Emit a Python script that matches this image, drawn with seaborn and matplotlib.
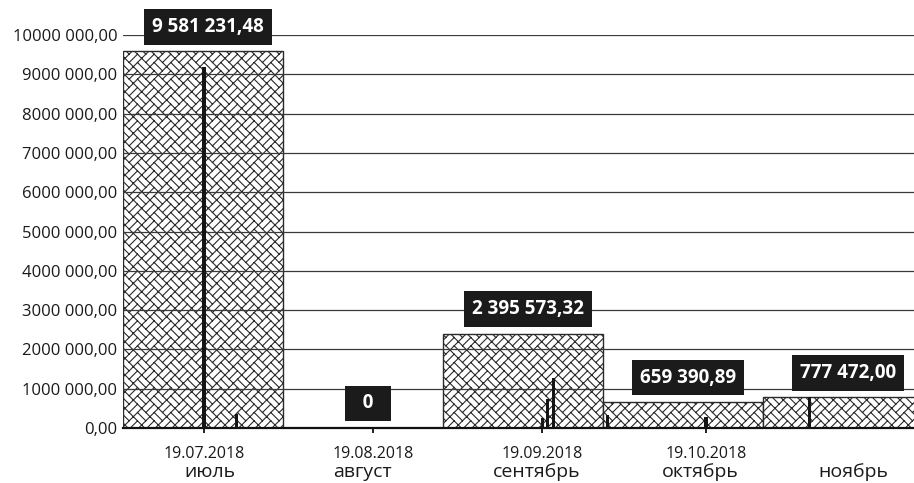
import warnings
import matplotlib
matplotlib.use("Agg")
import matplotlib.pyplot as plt
import matplotlib.dates as mdates
import matplotlib.hatch as mhatch
import pandas as pd
import seaborn as sns

warnings.filterwarnings("ignore")

# monthly totals (wide hatched bars)
months = ["июль", "август", "сентябрь", "октябрь", "ноябрь"]
month_totals = [9581231.48, 0.0, 2395573.32, 659390.89, 777472.00]
total_labels = ["9 581 231,48", "0", "2 395 573,32", "659 390,89", "777 472,00"]

# single payments (thin dark spikes on a date axis)
pay_dates = ["2018-07-19", "2018-07-25", "2018-09-19", "2018-09-20", "2018-09-21",
             "2018-10-01", "2018-10-19", "2018-11-07"]
pay_amounts = [9190000, 360000, 260000, 740000, 1280000, 330000, 270000, 777472]

tick_dates = ["2018-07-19", "2018-08-19", "2018-09-19", "2018-10-19"]
tick_labels = ["19.07.2018", "19.08.2018", "19.09.2018", "19.10.2018"]
# where the month names sit under the date axis
month_label_dates = ["2018-07-20", "2018-08-17", "2018-09-18", "2018-10-18", "2018-11-15"]

y_ticks = list(range(0, 10000001, 1000000))


# "weave" hatch similar to the office pattern (basket weave turned 45 degrees)
class WeaveHatch(mhatch.HatchPatternBase):
    def __init__(self, hatch, density):
        self.n = 6 if "w" in hatch else 0
        self.segs = self._make() if self.n else []
        self.num_vertices = len(self.segs) * 2

    def _make(self):
        n = self.n
        p = 1.0 / n
        segs = []
        for i in range(-1, 2 * n + 1):
            for j in range(-n - 1, n + 1):
                u0, w0 = p * i, p * j
                segs.append(((u0, w0), (u0, w0 + p)))
                segs.append(((u0, w0), (u0 + p, w0)))
                if (i + j) % 2 == 0:
                    segs.append(((u0, w0 + p / 2), (u0 + p, w0 + p / 2)))
                else:
                    segs.append(((u0 + p / 2, w0), (u0 + p / 2, w0 + p)))
        return [[((u - w) / 2, (u + w) / 2) for u, w in s] for s in segs]

    def set_vertices_and_codes(self, vertices, codes):
        for k, (a, b) in enumerate(self.segs):
            vertices[2 * k] = a
            vertices[2 * k + 1] = b
            codes[2 * k] = mhatch.Path.MOVETO
            codes[2 * k + 1] = mhatch.Path.LINETO


mhatch._hatch_types.append(WeaveHatch)

sns.set_theme(style="white")
plt.rcParams["font.family"] = ["Open Sans", "DejaVu Sans"]
plt.rcParams["hatch.linewidth"] = 0.8

fig = plt.figure(figsize=(9.14, 4.83), dpi=100)
ax = fig.add_axes([123 / 914, 55 / 483, 800 / 914, 393 / 483])

sns.barplot(x=months, y=month_totals, ax=ax, width=1.0, color="white",
            saturation=1, edgecolor="#2a2a2a", linewidth=1.0, hatch="w")
ax.set_xlim(-0.5, len(months) - 0.5)
ax.set_ylim(0, 10000000)
ax.set_yticks(y_ticks)
ax.set_yticklabels([f"{v // 1000000 * 1000} 000,00" if v else "0,00" for v in y_ticks])
ax.tick_params(axis="y", length=0, pad=4, labelsize=12, labelcolor="#1a1a1a")
ax.set_xlabel("")
ax.yaxis.grid(True, color="#3a3a3a", linewidth=0.9)
ax.xaxis.grid(False)
ax.set_axisbelow(False)
for side in ["top", "right", "left"]:
    ax.spines[side].set_visible(False)
ax.spines["bottom"].set_color("#111111")
ax.spines["bottom"].set_linewidth(1.6)
ax.spines["bottom"].set_zorder(5)

for i, (v, txt) in enumerate(zip(month_totals, total_labels)):
    shown = f"  {txt}  " if len(txt) < 3 else txt
    ax.annotate(shown, xy=(i, v), xytext=(3.5, 10.5), textcoords="offset points",
                ha="center", va="bottom", color="white", fontweight="bold",
                fontsize=13.5, zorder=6,
                bbox=dict(boxstyle="square,pad=0.42", fc="#1b1b1b", ec="none"))

# date axis for the single payments
ax2 = ax.twiny()
# twiny turns the bottom ticks of the category axis back on
ax.tick_params(axis="x", which="both", bottom=False, top=False,
               labelbottom=False, labeltop=False)
d_num = mdates.date2num(pd.to_datetime(pay_dates))
ax2.bar(d_num, pay_amounts, width=0.6, color="#151515", edgecolor="none",
        linewidth=0, zorder=3)

px_per_day = 502 / 92
d0 = mdates.date2num(pd.Timestamp(tick_dates[0]))
left = d0 - 81 / px_per_day
ax2.set_xlim(left, left + 800 / px_per_day)
ax.set_ylim(0, 10000000)

ax2.xaxis.set_ticks_position("bottom")
ax2.xaxis.set_label_position("bottom")
ax2.xaxis.remove_overlapping_locs = False
ax2.set_xticks(mdates.date2num(pd.to_datetime(tick_dates)))
ax2.set_xticklabels(tick_labels)
ax2.set_xticks(mdates.date2num(pd.to_datetime(month_label_dates)), minor=True)
ax2.set_xticklabels(months, minor=True)
ax2.tick_params(axis="x", which="major", length=3.6, width=1.3, color="#111111",
                direction="out", pad=9.5, labelsize=11.5, labelcolor="#1a1a1a")
ax2.tick_params(axis="x", which="minor", length=0, pad=25, labelsize=14,
                labelcolor="#1a1a1a")
for side in ax2.spines:
    ax2.spines[side].set_visible(False)
ax2.grid(False)

fig.savefig("out.png", dpi=100)
plt.close(fig)
